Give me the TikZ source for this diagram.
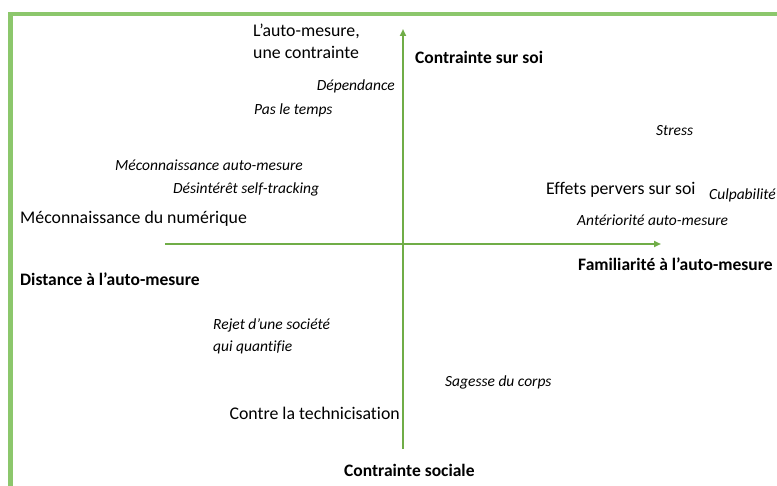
\documentclass[tikz,border=0pt]{standalone}
\usepackage{fontspec}
\setmainfont{Carlito}[Ligatures=NoCommon]
\usetikzlibrary{arrows.meta}
\definecolor{frameG}{HTML}{8CC76C}
\definecolor{axisG}{HTML}{70AD47}
\tikzset{
  reg/.style={font=\fontsize{17.8}{22}\selectfont, inner sep=0pt, align=left},
  ital/.style={font=\fontsize{15.5}{22}\selectfont\itshape, inner sep=0pt, align=left},
  bld/.style={font=\fontsize{17.5}{22}\selectfont\bfseries, inner sep=0pt},
  axis/.style={draw=axisG, line width=2pt, -{Triangle[length=7pt,width=6pt]}},
  frame/.style={draw=frameG, line width=4.5pt}
}
\begin{document}
\begin{tikzpicture}[x=1pt,y=-1pt]
\useasboundingbox (0,0) rectangle (777,486);
% frame
\coordinate (ftr) at (777,14);
\coordinate (ftl) at (10.5,14);
\coordinate (fbl) at (10.5,486);
\draw[frame] (ftr) -- (ftl) -- (fbl);
% axes
\coordinate (hl) at (165,244);
\coordinate (hr) at (661,244);
\coordinate (vb) at (403,449);
\coordinate (vt) at (403,29);
\draw[axis] (hl) -- (hr);
\draw[axis] (vb) -- (vt);
% labels
\node[reg, anchor=west] (t1) at (253,41) {L’auto-mesure,\\une contrainte};
\node[bld, anchor=west] (t2) at (415,57) {Contrainte sur soi};
\node[ital, anchor=east] (t3) at (395,86) {Dépendance};
\node[ital, anchor=west] (t4) at (254,110) {Pas le temps};
\node[ital, anchor=west] (t5) at (656,131) {Stress};
\node[ital, anchor=west] (t6) at (115,165) {Méconnaissance auto-mesure};
\node[ital, anchor=west] (t7) at (173,189) {Désintérêt self-tracking};
\node[reg, anchor=west] (t8) at (546,190) {Effets pervers sur soi};
\node[ital, anchor=west] (t9) at (709,195) {Culpabilité};
\node[reg, anchor=west] (t10) at (20,219) {Méconnaissance du numérique};
\node[ital, anchor=west] (t11) at (577,220) {Antériorité auto-mesure};
\node[bld, anchor=west] (t12) at (20,279) {Distance à l’auto-mesure};
\node[bld, anchor=west] (t13) at (578,264) {Familiarité à l’auto-mesure};
\node[ital, anchor=west] (t14) at (213,336) {Rejet d’une société\\qui quantifie};
\node[ital, anchor=west] (t15) at (445,382) {Sagesse du corps};
\node[reg, anchor=east] (t16) at (400,413) {Contre la technicisation};
\node[bld, anchor=west] (t17) at (344,470) {Contrainte sociale};
\end{tikzpicture}
\end{document}
